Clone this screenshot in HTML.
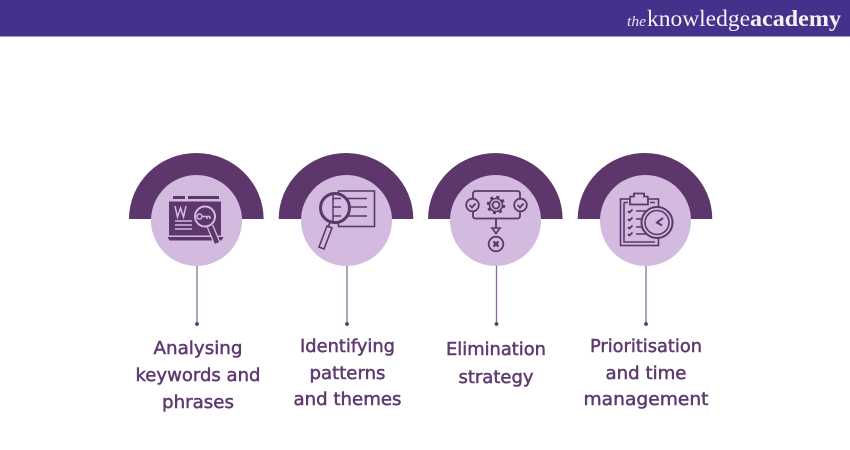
<!DOCTYPE html>
<html><head><meta charset="utf-8"><style>
html,body{margin:0;padding:0;background:#fff}
svg{display:block}
.l{font-family:"DejaVu Sans","Liberation Sans",sans-serif;font-size:18px;fill:#5f3a70;text-anchor:middle;font-weight:400;stroke:#5f3a70;stroke-width:.5}
</style></head><body>
<svg width="850" height="450" viewBox="0 0 850 450" xmlns="http://www.w3.org/2000/svg">
<rect width="850" height="450" fill="#fff"/>
<rect width="850" height="36.500" fill="#44318b"/>
<text x="627" y="26" font-family="Liberation Serif,serif" font-style="italic" font-size="15" fill="#e8e4f2" textLength="19" lengthAdjust="spacingAndGlyphs">the</text>
<text x="647" y="26" font-family="Liberation Serif,serif" font-size="23" fill="#f4f2f9" textLength="103" lengthAdjust="spacingAndGlyphs">knowledge</text>
<text x="750" y="26" font-family="Liberation Serif,serif" font-size="23" font-weight="700" fill="#f4f2f9" textLength="91" lengthAdjust="spacingAndGlyphs">academy</text>

<!-- arcs -->
<g fill="#5d376c">
<path d="M129 219a67.300 66 0 0 1 134.600 0z"/>
<path d="M278.700 219a67.300 66 0 0 1 134.600 0z"/>
<path d="M428 219a67.300 66 0 0 1 134.600 0z"/>
<path d="M577.700 219a67.300 66 0 0 1 134.600 0z"/>
</g>
<g fill="#d2bbde">
<circle cx="196.500" cy="220.500" r="45.500"/>
<circle cx="346.500" cy="220.500" r="45.500"/>
<circle cx="495.500" cy="220.500" r="45.500"/>
<circle cx="645.500" cy="220.500" r="45.500"/>
</g>
<!-- connectors -->
<g stroke="#8a6a98" stroke-width="1.300">
<path d="M197 266V324M347 266V324M496.500 266V324M646 266V324"/>
</g>
<g fill="#5d376c">
<circle cx="197" cy="324" r="1.900"/><circle cx="347" cy="324" r="1.900"/><circle cx="496.500" cy="324" r="1.900"/><circle cx="646" cy="324" r="1.900"/>
</g>

<!-- icon 1 -->
<g>
<path fill="#5d376c" d="M173 196h12v3h-12zM188 196h31v3h-31z"/>
<rect fill="#5d376c" x="169" y="201.500" width="52" height="34"/>
<path fill="#5d376c" d="M167.500 237h56l-2 3.500h-52z"/>
<path d="M175 206l2.500 11 3-9 3 9 2.500-11" fill="none" stroke="#d2bbde" stroke-width="1.500"/>
<path d="M175 221h17M175 225h17M175 229h17" stroke="#d2bbde" stroke-width="1.500"/>
<path d="M210 226l7 17" stroke="#d2bbde" stroke-width="7"/>
<path d="M210 226l7 17" stroke="#5d376c" stroke-width="4.500"/>
<circle cx="205" cy="216.500" r="10" fill="#5d376c" stroke="#d2bbde" stroke-width="2"/>
<circle cx="199.500" cy="216.500" r="2.500" fill="none" stroke="#d2bbde" stroke-width="1.500"/>
<path d="M202 216.500h8M207 216.500v2.500M210 216.500v2.500" stroke="#d2bbde" stroke-width="1.500"/>
</g>

<!-- icon 2 -->
<g>
<rect x="338.500" y="191" width="36" height="35.500" fill="#d2bbde" stroke="#5d376c" stroke-width="1.600"/>
<path d="M340 198.500h27M340 207h27M340 216h27" stroke="#5d376c" stroke-width="1.600"/>
<circle cx="335" cy="208" r="14.500" fill="#d2bbde" stroke="#5d376c" stroke-width="3"/>
<path d="M333 194v28M341 198.500h-8M341 207h-8M341 216h-8" stroke="#5d376c" stroke-width="1.500" fill="none"/>
<path d="M330 222.500l-2 4.500M327 226l5 2-8 21-5-2z" fill="#d2bbde" stroke="#5d376c" stroke-width="1.600"/>
</g>

<!-- icon 3 -->
<g fill="none" stroke="#5d376c">
<path d="M473 199v-5q0-3 3-3h41q3 0 3 3v5M473 212v4q0 2.500 3 2.500h41q3 0 3-2.500v-4" stroke-width="1.800"/>
<circle cx="472.500" cy="205" r="6.300" stroke-width="1.800"/>
<circle cx="520.500" cy="205" r="6.300" stroke-width="1.800"/>
<path d="M469.500 205l2.500 2.500 3.500-4M517.500 205l2.500 2.500 3.500-4" stroke-width="1.800"/>
<circle cx="496" cy="205" r="3.500" stroke-width="1.800"/>
<circle cx="496" cy="205" r="8" stroke-width="2.500" stroke-dasharray="3 3.300"/>
<circle cx="496" cy="205" r="6.500" stroke-width="1.600"/>
<path d="M496 219v9" stroke-width="1.800"/>
<path d="M492 228h8l-4 5.500z" stroke-width="1.600"/>
<circle cx="496" cy="244" r="7.300" stroke-width="1.800"/>
<path d="M493.500 241.500l5 5M498.500 241.500l-5 5" stroke-width="2.300"/>
</g>

<!-- icon 4 -->
<g fill="none" stroke="#5d376c" stroke-width="1.600">
<rect x="620.500" y="199" width="38" height="46.500"/>
<path d="M624 202.500h4M650 202.500h5M624 202.500v39.500h31"/>
<path d="M630 200v-2.500q0-1 1-1h3v-3h10v3h3q1 0 1 1v7h-18z" fill="#d2bbde" stroke-width="1.800"/>
<path d="M628 211l1.500 1.500 3-3M628 219l1.500 1.500 3-3M628 227l1.500 1.500 3-3M628 234l1.500 1.500 3-3" stroke-width="1.800"/>
<path d="M636 211h12M636 219h8M636 227h8M636 234h12"/>
<circle cx="657" cy="222.500" r="15.500" fill="#d2bbde" stroke-width="2"/>
<circle cx="657" cy="222.500" r="12" stroke-width="1.600"/>
<path d="M663 218l-6 4.500 5 3" stroke-width="2"/>
</g>

<!-- labels -->
<text class="l" x="198" y="354" textLength="89" lengthAdjust="spacingAndGlyphs">Analysing</text>
<text class="l" x="198" y="381" textLength="125" lengthAdjust="spacingAndGlyphs">keywords and</text>
<text class="l" x="198" y="408" textLength="72" lengthAdjust="spacingAndGlyphs">phrases</text>
<text class="l" x="347.500" y="352" textLength="95" lengthAdjust="spacingAndGlyphs">Identifying</text>
<text class="l" x="347.500" y="379" textLength="76" lengthAdjust="spacingAndGlyphs">patterns</text>
<text class="l" x="347.500" y="405" textLength="108" lengthAdjust="spacingAndGlyphs">and themes</text>
<text class="l" x="496" y="355" textLength="100" lengthAdjust="spacingAndGlyphs">Elimination</text>
<text class="l" x="496" y="383" textLength="75" lengthAdjust="spacingAndGlyphs">strategy</text>
<text class="l" x="646" y="352" textLength="112" lengthAdjust="spacingAndGlyphs">Prioritisation</text>
<text class="l" x="646" y="379" textLength="81" lengthAdjust="spacingAndGlyphs">and time</text>
<text class="l" x="646" y="405" textLength="125" lengthAdjust="spacingAndGlyphs">management</text>
</svg>
</body></html>
